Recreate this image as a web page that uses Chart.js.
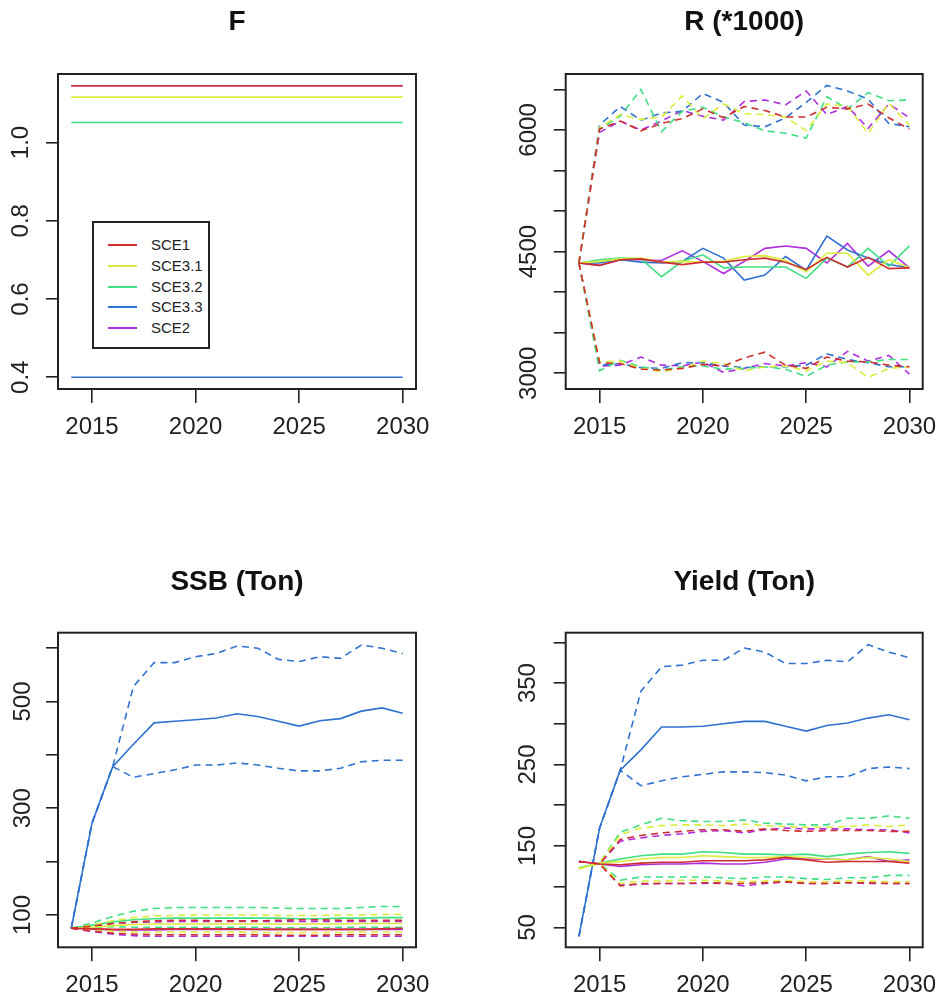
<!DOCTYPE html>
<html>
<head>
<meta charset="utf-8">
<script src="https://cdn.jsdelivr.net/npm/chart.js@4.4.1/dist/chart.umd.min.js"></script>
<style>
  body { margin: 0; background: #fff; }
  #page { position: relative; width: 938px; height: 1005px; background: #fff; }
  .panel { position: absolute; }
  #legend { position: absolute; border: 2px solid #222; box-sizing: border-box; background: #fff;
            font: 15px "Liberation Sans", Arial, sans-serif; color: #222; }
  #legend .row { position: absolute; left: 0; right: 0; height: 20px; }
  #legend .sw { position: absolute; left: 14px; top: 9px; width: 29px; height: 2px; }
  #legend .lab { position: absolute; left: 57px; top: 1px; }
</style>
</head>
<body>
<div id="page">
  <div class="panel" style="left:0;top:0"><canvas id="cF" width="469" height="470"></canvas></div>
  <div class="panel" style="left:469px;top:0"><canvas id="cR" width="469" height="470"></canvas></div>
  <div class="panel" style="left:0;top:505px"><canvas id="cS" width="469" height="500"></canvas></div>
  <div class="panel" style="left:469px;top:505px"><canvas id="cY" width="469" height="500"></canvas></div>
  <div id="legend" style="left:92px;top:221px;width:118px;height:128px"></div>
</div>
<script>
// 시나리오 / 연도
const SCENARIOS = ['SCE1', 'SCE3.1', 'SCE3.2', 'SCE3.3', 'SCE2'];
const COLORS = ['#d12f2f', '#dbec3a', '#3fdf82', '#2f72cf', '#ad2fe0'];
const YEARS = [2014, 2015, 2016, 2017, 2018, 2019, 2020, 2021, 2022, 2023, 2024, 2025, 2026, 2027, 2028, 2029, 2030];
const X_TICKS = [2015, 2020, 2025, 2030];
const X_RANGE = [2013.36, 2030.64];

// F
const F_VALUES = [
  [1.145, 1.145, 1.145, 1.145, 1.145, 1.145, 1.145, 1.145, 1.145, 1.145, 1.145, 1.145, 1.145, 1.145, 1.145, 1.145, 1.145],
  [1.116, 1.116, 1.116, 1.116, 1.116, 1.116, 1.116, 1.116, 1.116, 1.116, 1.116, 1.116, 1.116, 1.116, 1.116, 1.116, 1.116],
  [1.051, 1.051, 1.051, 1.051, 1.051, 1.051, 1.051, 1.051, 1.051, 1.051, 1.051, 1.051, 1.051, 1.051, 1.051, 1.051, 1.051],
  [0.4, 0.4, 0.4, 0.4, 0.4, 0.4, 0.4, 0.4, 0.4, 0.4, 0.4, 0.4, 0.4, 0.4, 0.4, 0.4, 0.4],
  [1.145, 1.145, 1.145, 1.145, 1.145, 1.145, 1.145, 1.145, 1.145, 1.145, 1.145, 1.145, 1.145, 1.145, 1.145, 1.145, 1.145]
];
const F_TICKS = [0.4, 0.6, 0.8, 1.0];
const F_LABELED = [0.4, 0.6, 0.8, 1.0];
const F_RANGE = [0.370, 1.175];

// R (*1000) : 중앙값, 상한, 하한
const R_MED = [
  [4360, 4330, 4400, 4410, 4370, 4340, 4370, 4370, 4400, 4420, 4370, 4280, 4430, 4310, 4430, 4290, 4300],
  [4360, 4380, 4410, 4420, 4370, 4380, 4370, 4380, 4440, 4450, 4390, 4250, 4480, 4480, 4210, 4400, 4300],
  [4360, 4400, 4420, 4410, 4190, 4380, 4460, 4300, 4310, 4310, 4310, 4170, 4420, 4310, 4540, 4320, 4570],
  [4360, 4360, 4400, 4370, 4360, 4380, 4540, 4420, 4150, 4210, 4440, 4270, 4690, 4520, 4420, 4340, 4300],
  [4360, 4330, 4400, 4400, 4390, 4510, 4380, 4230, 4380, 4540, 4570, 4540, 4360, 4600, 4320, 4510, 4300]
];
const R_HI = [
  [4360, 6010, 6110, 5990, 6080, 6140, 6260, 6150, 6290, 6240, 6160, 6160, 6280, 6260, 6320, 6150, 6010],
  [4360, 6030, 6190, 6130, 6160, 6420, 6140, 6320, 6200, 6190, 6160, 5990, 6320, 6290, 5960, 6330, 6060],
  [4360, 6010, 6170, 6500, 5980, 6230, 6280, 6160, 6090, 5990, 5960, 5900, 6410, 6260, 6460, 6360, 6370],
  [4360, 6060, 6290, 6120, 6210, 6230, 6450, 6340, 6060, 6040, 6150, 6340, 6550, 6480, 6380, 6080, 6040],
  [4360, 5970, 6110, 6000, 6110, 6240, 6170, 6120, 6350, 6370, 6310, 6480, 6190, 6290, 6020, 6320, 6150]
];
const R_LO = [
  [4360, 3130, 3120, 3050, 3040, 3060, 3110, 3090, 3190, 3260, 3100, 3060, 3200, 3150, 3140, 3100, 3080],
  [4360, 3140, 3150, 3060, 3020, 3060, 3150, 3120, 3030, 3080, 3090, 3030, 3150, 3130, 2950, 3060, 3080],
  [4360, 3030, 3160, 3080, 3040, 3080, 3090, 3050, 3060, 3080, 3050, 2960, 3100, 3140, 3140, 3170, 3170],
  [4360, 3100, 3120, 3070, 3060, 3130, 3130, 3090, 3070, 3080, 3080, 3100, 3240, 3170, 3130, 3080, 3080],
  [4360, 3090, 3100, 3200, 3100, 3090, 3140, 3010, 3060, 3120, 3090, 3130, 3080, 3270, 3150, 3220, 2990]
];
const R_TICKS = [3000, 3500, 4000, 4500, 5000, 5500, 6000, 6500];
const R_LABELED = [3000, 4500, 6000];
const R_RANGE = [2806, 6690];

// SSB (Ton)
const S_MED = [
  [75, 74, 73, 73, 74, 74, 74, 74, 74, 73, 73, 73, 73, 73, 73, 74, 75],
  [75, 77, 80, 82, 83, 83, 83, 83, 83, 83, 83, 83, 83, 83, 84, 84, 84],
  [75, 81, 87, 91, 93, 94, 94, 94, 94, 94, 94, 93, 93, 94, 94, 95, 95],
  [75, 272, 378, 420, 460, 463, 466, 469, 477, 472, 463, 454, 464, 468, 482, 488, 478],
  [75, 74, 72, 72, 72, 73, 73, 73, 73, 73, 73, 73, 73, 73, 73, 73, 73]
];
const S_HI = [
  [75, 79, 84, 87, 89, 90, 90, 89, 89, 89, 90, 91, 91, 90, 90, 90, 90],
  [75, 81, 89, 95, 98, 99, 100, 100, 100, 100, 99, 99, 99, 100, 100, 101, 101],
  [75, 85, 97, 107, 112, 114, 114, 114, 114, 114, 113, 112, 112, 112, 114, 116, 116],
  [75, 272, 378, 528, 573, 573, 584, 590, 604, 600, 579, 575, 584, 581, 606, 600, 590],
  [75, 79, 84, 86, 87, 88, 88, 88, 88, 88, 88, 88, 88, 88, 88, 88, 88]
];
const S_LO = [
  [75, 70, 66, 64, 63, 63, 63, 63, 63, 63, 62, 62, 62, 63, 63, 63, 63],
  [75, 73, 70, 68, 68, 68, 68, 68, 68, 67, 67, 67, 67, 67, 68, 68, 68],
  [75, 77, 78, 77, 77, 77, 77, 77, 77, 77, 76, 76, 76, 77, 77, 77, 77],
  [75, 272, 378, 358, 365, 372, 381, 381, 385, 381, 375, 370, 370, 375, 387, 390, 390],
  [75, 69, 64, 61, 60, 60, 60, 60, 60, 60, 60, 60, 60, 60, 60, 60, 60]
];
const S_TICKS = [100, 200, 300, 400, 500, 600];
const S_LABELED = [100, 300, 500];
const S_RANGE = [39.4, 629];

// Yield (Ton)
const Y_MED = [
  [131, 128, 127, 129, 130, 130, 132, 132, 132, 133, 136, 133, 130, 131, 131, 131, 129],
  [122, 129, 131, 134, 136, 136, 138, 137, 136, 136, 137, 136, 134, 133, 136, 134, 131],
  [123, 129, 134, 138, 140, 140, 143, 142, 140, 140, 139, 140, 137, 140, 142, 143, 141],
  [39, 172, 243, 268, 296, 296, 297, 300, 303, 303, 297, 291, 298, 301, 307, 311, 305],
  [131, 128, 125, 127, 128, 128, 129, 128, 128, 130, 134, 134, 134, 133, 137, 131, 133]
];
const Y_HI = [
  [131, 128, 158, 163, 166, 168, 170, 170, 168, 171, 169, 168, 169, 169, 169, 168, 168],
  [122, 129, 164, 172, 175, 176, 176, 175, 177, 175, 174, 173, 173, 174, 176, 174, 176],
  [123, 129, 167, 176, 184, 181, 180, 180, 182, 178, 177, 176, 176, 184, 184, 187, 184],
  [39, 172, 243, 340, 370, 372, 378, 378, 393, 388, 374, 374, 378, 376, 397, 388, 381],
  [131, 128, 156, 160, 163, 165, 168, 169, 166, 170, 172, 171, 171, 171, 170, 170, 166]
];
const Y_LO = [
  [131, 128, 101, 104, 104, 104, 105, 104, 104, 105, 106, 104, 104, 105, 105, 104, 104],
  [122, 129, 104, 107, 107, 108, 108, 107, 106, 107, 108, 106, 106, 107, 107, 106, 106],
  [123, 129, 108, 112, 112, 112, 112, 111, 110, 112, 112, 110, 109, 111, 111, 114, 114],
  [39, 172, 243, 224, 230, 235, 238, 241, 241, 240, 237, 230, 235, 235, 245, 247, 245],
  [131, 128, 102, 103, 104, 104, 104, 105, 101, 104, 106, 104, 104, 105, 104, 104, 104]
];
const Y_TICKS = [50, 100, 150, 200, 250, 300, 350, 400];
const Y_LABELED = [50, 150, 250, 350];
const Y_RANGE = [25.7, 411.8];

const FONT = '"Liberation Sans", Arial, sans-serif';
const INK = '#222';

// 플롯 영역 테두리 (R의 box())
const boxPlugin = {
  id: 'plotBox',
  beforeDatasetsDraw(chart) {
    const { ctx, chartArea: a } = chart;
    ctx.save();
    ctx.strokeStyle = INK;
    ctx.lineWidth = 2;
    ctx.strokeRect(a.left, a.top, a.right - a.left, a.bottom - a.top);
    ctx.restore();
  }
};

function lineSet(values, color, dashed) {
  return {
    data: values,
    borderColor: color,
    borderWidth: 1.6,
    borderDash: dashed ? [7, 5] : [],
    pointRadius: 0,
    tension: 0,
    fill: false
  };
}

function makePanel(id, cfg) {
  const datasets = [];
  if (cfg.single) {
    cfg.single.forEach((vals, i) => datasets.push(lineSet(vals, COLORS[i], false)));
  } else {
    for (let i = 0; i < SCENARIOS.length; i++) {
      datasets.push(lineSet(cfg.hi[i], COLORS[i], true));
      datasets.push(lineSet(cfg.med[i], COLORS[i], false));
      datasets.push(lineSet(cfg.lo[i], COLORS[i], true));
    }
  }

  return new Chart(document.getElementById(id), {
    type: 'line',
    data: { labels: YEARS, datasets: datasets },
    plugins: [boxPlugin],
    options: {
      responsive: false,
      animation: false,
      devicePixelRatio: 1,
      layout: { padding: { left: 0, top: 0, bottom: 0, right: cfg.padRight } },
      plugins: {
        legend: { display: false },
        tooltip: { enabled: false },
        title: {
          display: true,
          text: cfg.title,
          fullSize: false,
          color: '#111',
          font: { family: FONT, size: 28, weight: 'bold', lineHeight: 1.2 },
          padding: { top: cfg.titleTop, bottom: cfg.titleBottom }
        }
      },
      scales: {
        x: {
          type: 'linear',
          min: X_RANGE[0],
          max: X_RANGE[1],
          grid: { drawOnChartArea: false, drawTicks: true, tickLength: 14, color: INK, lineWidth: 1.6 },
          border: { display: false },
          ticks: {
            autoSkip: false,
            padding: 10,
            color: INK,
            font: { family: FONT, size: 24 },
            callback: v => String(v)
          },
          afterBuildTicks: s => { s.ticks = X_TICKS.map(v => ({ value: v })); },
          afterFit: s => {
            s.height = cfg.xHeight;
            s.paddingLeft = 0; s.paddingRight = 0;
          }
        },
        y: {
          type: 'linear',
          min: cfg.range[0],
          max: cfg.range[1],
          grid: { drawOnChartArea: false, drawTicks: true, tickLength: 12, color: INK, lineWidth: 1.6 },
          border: { display: false },
          ticks: {
            autoSkip: false,
            minRotation: 90,
            maxRotation: 90,
            crossAlign: 'center',
            padding: cfg.yPad,
            color: INK,
            font: { family: FONT, size: 24 },
            callback: v => cfg.labeled.includes(v) ? cfg.fmt(v) : ''
          },
          afterBuildTicks: s => { s.ticks = cfg.ticks.map(v => ({ value: v })); },
          afterFit: s => {
            s.width = cfg.yWidth;
            s.paddingTop = 0; s.paddingBottom = 0;
          }
        }
      }
    }
  });
}

makePanel('cF', {
  title: 'F', single: F_VALUES, range: F_RANGE, ticks: F_TICKS, labeled: F_LABELED,
  fmt: v => v.toFixed(1), yWidth: 58, yPad: 7.6, padRight: 53,
  titleTop: 5.2, titleBottom: 35.2, xHeight: 81
});
makePanel('cR', {
  title: 'R (*1000)', med: R_MED, hi: R_HI, lo: R_LO, range: R_RANGE, ticks: R_TICKS, labeled: R_LABELED,
  fmt: v => String(v), yWidth: 96.7, yPad: -2, padRight: 15.3,
  titleTop: 5.2, titleBottom: 35.2, xHeight: 81
});
makePanel('cS', {
  title: 'SSB (Ton)', med: S_MED, hi: S_HI, lo: S_LO, range: S_RANGE, ticks: S_TICKS, labeled: S_LABELED,
  fmt: v => String(v), yWidth: 58, yPad: 2.7, padRight: 53,
  titleTop: 60.9, titleBottom: 33.2, xHeight: 57.7
});
makePanel('cY', {
  title: 'Yield (Ton)', med: Y_MED, hi: Y_HI, lo: Y_LO, range: Y_RANGE, ticks: Y_TICKS, labeled: Y_LABELED,
  fmt: v => String(v), yWidth: 96.7, yPad: 5.4, padRight: 15.3,
  titleTop: 60.9, titleBottom: 33.2, xHeight: 57.7
});

// 범례 (F 패널 안)
const legendBox = document.getElementById('legend');
SCENARIOS.forEach((name, i) => {
  const row = document.createElement('div');
  row.className = 'row';
  row.style.top = (12 + i * 20.8) + 'px';
  row.innerHTML = '<span class="sw" style="background:' + COLORS[i] + '"></span><span class="lab">' + name + '</span>';
  legendBox.appendChild(row);
});
</script>
</body>
</html>
